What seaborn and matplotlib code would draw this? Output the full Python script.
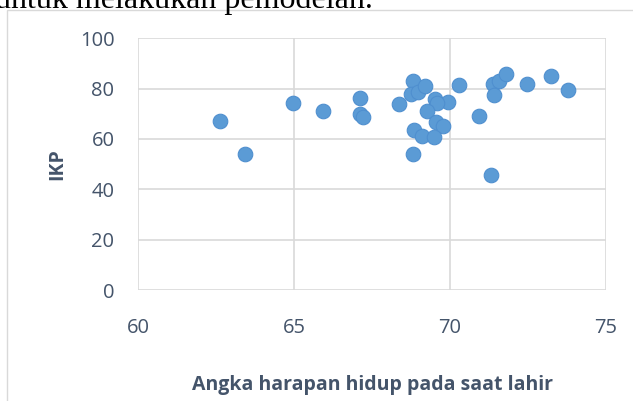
import seaborn as sns
import pandas as pd
import matplotlib.pyplot as plt
from matplotlib.patches import Rectangle

# Angka harapan hidup (x) dan IKP (y)
ahh = [62.63, 63.43, 64.97, 65.94, 67.12, 67.12, 67.22, 68.37, 68.80, 68.74,
       68.98, 69.20, 68.86, 69.09, 68.80, 69.52, 69.95, 69.57, 69.25, 70.29,
       69.55, 69.79, 69.50, 70.94, 71.31, 71.37, 71.58, 71.78, 71.42, 72.46,
       73.23, 73.78]
ikp = [67.2, 54.0, 74.2, 71.1, 76.1, 69.9, 68.8, 74.0, 83.1, 77.7,
       78.8, 81.0, 63.5, 61.2, 54.0, 75.7, 74.6, 74.4, 71.1, 81.4,
       66.8, 65.1, 60.6, 69.2, 45.5, 81.8, 83.1, 85.7, 77.5, 81.7,
       85.1, 79.4]
x_ticks = [60, 65, 70, 75]
y_ticks = [0, 20, 40, 60, 80, 100]

df = pd.DataFrame({"ahh": ahh, "ikp": ikp})

sns.set_theme(style="white")
plt.rcParams['font.family'] = ['Open Sans', 'DejaVu Sans']
txt = "#44546A"

fig = plt.figure(figsize=(6.33, 4.01), dpi=100)
# bingkai chart
fig.patches.append(Rectangle((7 / 633, -0.1), 1.2, 1 - 10 / 401 + 0.1,
                             transform=fig.transFigure, fill=False,
                             edgecolor="#D9D9D9", lw=1))
# sisa teks dokumen yang terpotong di atas
fig.text(-5 / 633, 1 - 8 / 401, "untuk melakukan pemodelan.",
         family="Liberation Serif", fontsize=23, va="baseline", ha="left",
         color="black")

ax = fig.add_axes([138 / 633, 1 - 290 / 401, (606 - 138) / 633, (290 - 38.3) / 401])
sns.scatterplot(data=df, x="ahh", y="ikp", ax=ax, s=110, color="#5B9BD5",
                edgecolor="#4F8FCF", linewidth=0.8, zorder=3)

ax.set_xlim(60, 75)
ax.set_ylim(0, 100)
ax.set_xticks(x_ticks)
ax.set_yticks(y_ticks)
ax.grid(True, color="#D9D9D9", lw=1.2)
for s in ax.spines.values():
    s.set_visible(False)
ax.tick_params(axis="x", pad=20, labelsize=14.5, colors=txt, length=0)
ax.tick_params(axis="y", pad=17, labelsize=14.5, colors=txt, length=0)
ax.set_xlabel("Angka harapan hidup pada saat lahir", fontsize=14,
              fontweight="bold", color=txt, labelpad=27)
ax.set_ylabel("IKP", fontsize=14, fontweight="bold", color=txt, labelpad=9)

fig.savefig("out.png", dpi=100)
